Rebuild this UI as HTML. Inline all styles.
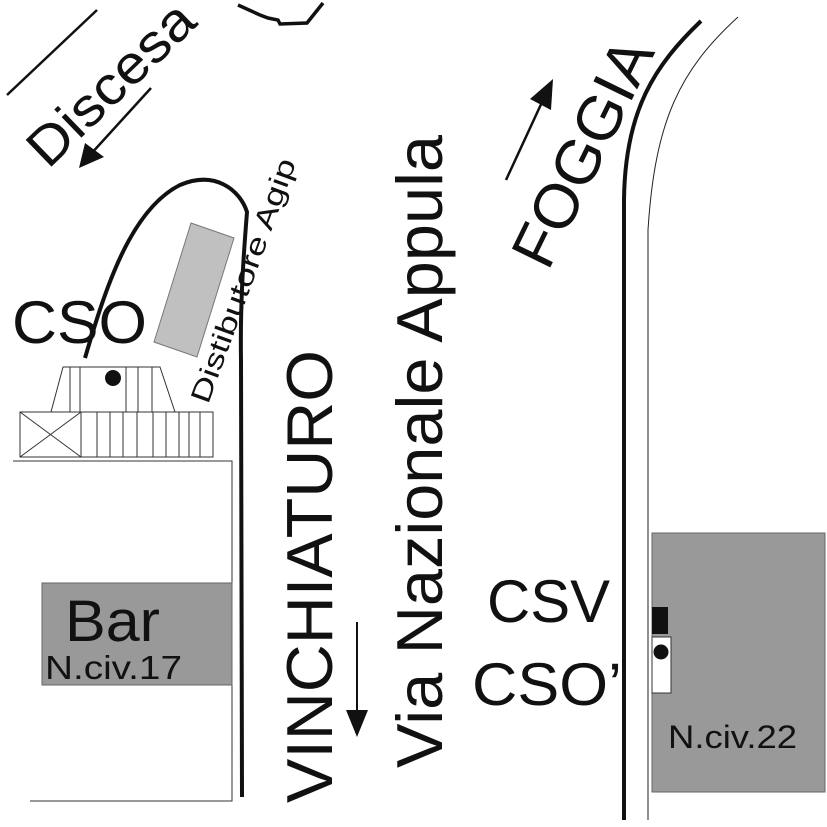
<!DOCTYPE html>
<html><head><meta charset="utf-8"><style>html,body{margin:0;padding:0;background:#fff}svg{display:block}</style></head>
<body>
<svg width="827" height="827" viewBox="0 0 827 827" xmlns="http://www.w3.org/2000/svg" font-family="Liberation Sans, sans-serif">
<rect width="827" height="827" fill="#fff"/>
<line x1="7" y1="95" x2="97" y2="10" stroke="#111" stroke-width="2.5"/>
<text x="0" y="0" font-size="54" fill="#111" transform="translate(48,170) rotate(-44)" textLength="210" lengthAdjust="spacingAndGlyphs">Discesa</text>
<line x1="151" y1="88" x2="90" y2="155" stroke="#111" stroke-width="2.5"/>
<polygon points="79,168 85,143 104,157" fill="#111"/>
<polyline points="238,5 260,15 268,18 278,20 280,24 307,23 323,3" fill="none" stroke="#111" stroke-width="3.5"/>
<path d="M85,358 C105,290 130,210 180,185 C215,170 240,190 247,212 C244,250 240,300 241,360 L242,797" fill="none" stroke="#111" stroke-width="4"/>
<polygon points="191,223 234,238 197,357 154,342" fill="#c0c0c0" stroke="#777" stroke-width="1"/>
<text x="0" y="0" font-size="28" fill="#111" transform="translate(208,405) rotate(-70)" textLength="258" lengthAdjust="spacingAndGlyphs">Distibutore Agip</text>
<text x="12" y="343" font-size="60" fill="#111" textLength="135" lengthAdjust="spacingAndGlyphs">CSO</text>
<g stroke="#333" stroke-width="1" fill="none">
<polygon points="63,367 160,367 175,412 51,412"/>
<line x1="70" y1="367" x2="70" y2="412"/><line x1="80" y1="367" x2="80" y2="412"/>
<line x1="126" y1="367" x2="126" y2="412"/><line x1="138" y1="367" x2="138" y2="412"/><line x1="152" y1="367" x2="152" y2="412"/>
<rect x="20" y="412" width="193" height="45"/>
<line x1="81" y1="412" x2="81" y2="457"/>
<line x1="20" y1="412" x2="81" y2="457"/><line x1="81" y1="412" x2="20" y2="457"/>
<line x1="97" y1="412" x2="97" y2="457"/><line x1="110" y1="412" x2="110" y2="457"/><line x1="123" y1="412" x2="123" y2="457"/>
<line x1="137" y1="412" x2="137" y2="457"/><line x1="153" y1="412" x2="153" y2="457"/><line x1="166" y1="412" x2="166" y2="457"/>
<line x1="179" y1="412" x2="179" y2="457"/><line x1="189" y1="412" x2="189" y2="457"/><line x1="200" y1="412" x2="200" y2="457"/>
<polyline points="13,461 232,461 232,801 30,801"/>
</g>
<circle cx="113" cy="378" r="8" fill="#111"/>
<rect x="42" y="583" width="190" height="102" fill="#999" stroke="#666" stroke-width="1"/>
<text x="65" y="641" font-size="58" fill="#111" textLength="95" lengthAdjust="spacingAndGlyphs">Bar</text>
<text x="45" y="679" font-size="33" fill="#111" textLength="137" lengthAdjust="spacingAndGlyphs">N.civ.17</text>
<text x="0" y="0" font-size="65" fill="#111" transform="translate(332,803) rotate(-90)" textLength="453" lengthAdjust="spacingAndGlyphs">VINCHIATURO</text>
<text x="0" y="0" font-size="65" fill="#111" transform="translate(442,768) rotate(-90)" textLength="633" lengthAdjust="spacingAndGlyphs">Via Nazionale Appula</text>
<line x1="357" y1="622" x2="357" y2="715" stroke="#111" stroke-width="2"/>
<polygon points="346,710 368,710 357,737" fill="#111"/>
<text x="0" y="0" font-size="62" fill="#111" transform="translate(548,272) rotate(-64)" textLength="245" lengthAdjust="spacingAndGlyphs">FOGGIA</text>
<line x1="506" y1="180" x2="543" y2="100" stroke="#111" stroke-width="2.5"/>
<polygon points="553,79 551,110 530,99" fill="#111"/>
<path d="M701,21 C655,65 625,110 624,200 L624,820" fill="none" stroke="#111" stroke-width="4"/>
<path d="M738,17 C680,70 655,120 648,230 L648,820" fill="none" stroke="#222" stroke-width="1"/>
<rect x="652" y="533" width="173" height="259" fill="#999" stroke="#666" stroke-width="1"/>
<rect x="652" y="607" width="16" height="27" fill="#111"/>
<rect x="652" y="637" width="19" height="56" fill="#fff" stroke="#333" stroke-width="1"/>
<circle cx="661" cy="652" r="7.5" fill="#111"/>
<text x="668" y="748" font-size="32" fill="#111" textLength="129" lengthAdjust="spacingAndGlyphs">N.civ.22</text>
<text x="487" y="622" font-size="60" fill="#111" textLength="123" lengthAdjust="spacingAndGlyphs">CSV</text>
<text x="472" y="705" font-size="60" fill="#111" textLength="150" lengthAdjust="spacingAndGlyphs">CSO’</text>
</svg>
</body></html>
